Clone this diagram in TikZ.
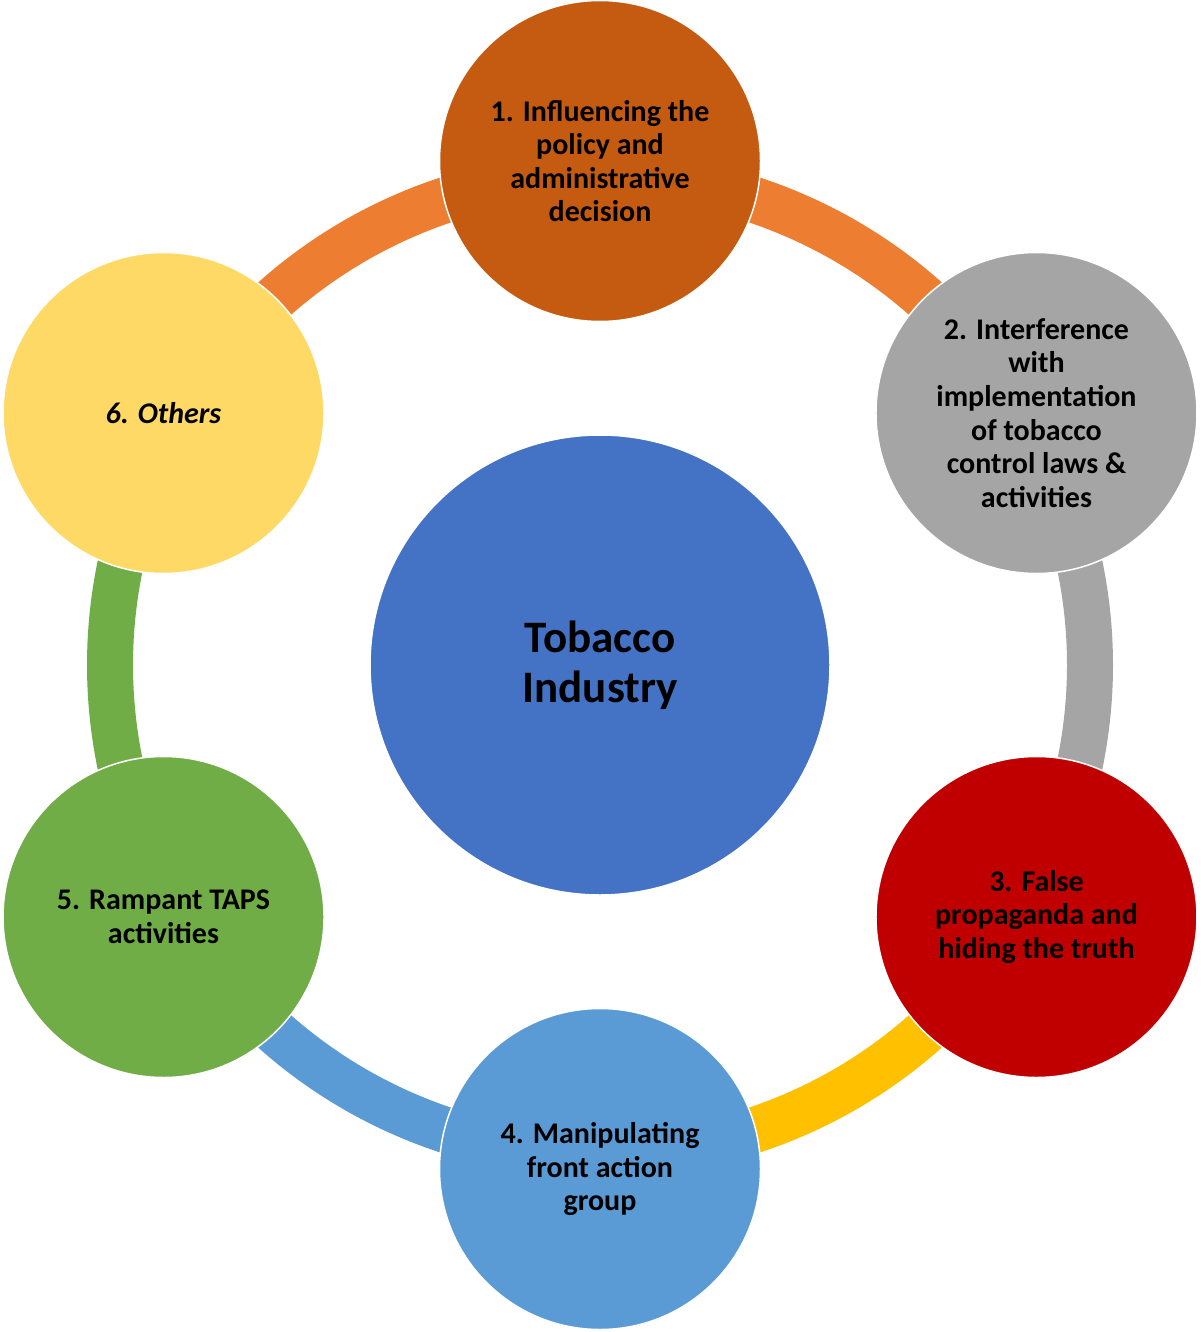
\documentclass[tikz,border=0pt]{standalone}
\usepackage{fontspec}
\setmainfont{Carlito}
\usetikzlibrary{calc}
\definecolor{cOne}{HTML}{C55A11}
\definecolor{cTwo}{HTML}{A5A5A5}
\definecolor{cThree}{HTML}{C00000}
\definecolor{cFour}{HTML}{5B9BD5}
\definecolor{cFive}{HTML}{70AD47}
\definecolor{cSix}{HTML}{FFD966}
\definecolor{cCenter}{HTML}{4472C4}
\definecolor{aOrange}{HTML}{ED7D31}
\definecolor{aYellow}{HTML}{FFC000}
\begin{document}
\begin{tikzpicture}[x=1pt,y=-1pt,
  outer/.style={circle, draw=white, line width=1.5pt, minimum size=321pt, inner sep=0pt,
    align=center, text=black, font=\fontsize{30}{33.6}\selectfont\bfseries},
  hub/.style={circle, draw=white, line width=1.5pt, fill=cCenter, minimum size=460pt, inner sep=0pt,
    align=center, text=black, font=\fontsize{45}{50}\selectfont\bfseries},
  ring/.style={line width=46pt}]
\useasboundingbox (0,0) rectangle (1200,1332);
\coordinate (c) at (600,665);
% ring anchor points
\foreach \i/\a in {1/-90,2/-30,3/30,4/90,5/150,6/210}{
  \coordinate (r\i) at ($(c)+(\a:490)$);
}
% connecting arcs
\draw[ring, aOrange] (r1) arc[start angle=-90, end angle=-30, radius=490];
\draw[ring, cTwo] (r2) arc[start angle=-30, end angle=30, radius=490];
\draw[ring, aYellow] (r3) arc[start angle=30, end angle=90, radius=490];
\draw[ring, cFour] (r4) arc[start angle=90, end angle=150, radius=490];
\draw[ring, cFive] (r5) arc[start angle=150, end angle=210, radius=490];
\draw[ring, aOrange] (r6) arc[start angle=210, end angle=270, radius=490];
% centre
\node[hub] (hub) at (c) {Tobacco\\Industry};
% outer circles
\node[outer, fill=cOne] (n1) at ($(c)+(-90:504)$) {1. Influencing the\\policy and\\administrative\\decision};
\node[outer, fill=cTwo] (n2) at ($(c)+(-30:504)$) {2. Interference\\with\\implementation\\of tobacco\\control laws \&\\activities};
\node[outer, fill=cThree] (n3) at ($(c)+(30:504)$) {3. False\\propaganda and\\hiding the truth};
\node[outer, fill=cFour] (n4) at ($(c)+(90:504)$) {4. Manipulating\\front action\\group};
\node[outer, fill=cFive] (n5) at ($(c)+(150:504)$) {5. Rampant TAPS\\activities};
\node[outer, fill=cSix] (n6) at ($(c)+(210:504)$) {\itshape 6. Others};
\end{tikzpicture}
\end{document}
